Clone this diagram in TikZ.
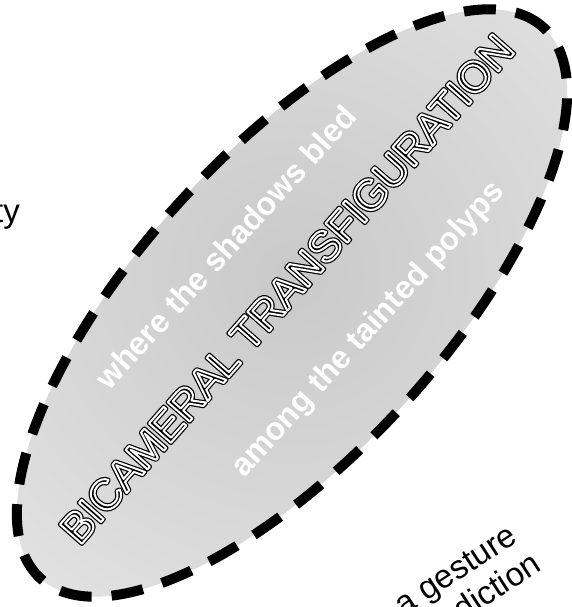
\documentclass[tikz,border=0pt]{standalone}
\usepackage{fontspec}
\setmainfont{Liberation Sans}
\usetikzlibrary{shapes.geometric}

% gray shade that runs out to the rim of the pod
\pgfdeclareradialshading{podshade}{\pgfpoint{0bp}{0bp}}{%
  color(0bp)=(black!21); color(25bp)=(black!14); color(50bp)=(black!6)}

% outlined letters: stroke only, round joins, width as given
\newcommand{\strokedtext}[2]{\special{pdf:literal direct 1 Tr 1 j #1 w}#2\special{pdf:literal direct 0 Tr}}

\tikzset{
  pod/.style = {ellipse, draw=black, line width=10pt, dash pattern=on 32pt off 20pt,
                shading=podshade, minimum width=746pt, minimum height=302pt, inner sep=0pt},
  bigtitle/.style = {inner sep=0pt, font=\fontsize{42.5}{48}\selectfont},
  whisper/.style = {inner sep=0pt, text=white, font=\fontsize{32}{36}\selectfont\bfseries},
  margin/.style = {inner sep=0pt, text=black, font=\fontsize{33}{38}\selectfont}
}

\begin{document}
\begin{tikzpicture}[x=1pt, y=-1pt]
  \useasboundingbox (0,0) rectangle (572,607);
  \clip (0,0) rectangle (572,607);

  \node (pod) [pod, rotate=47.6] at (292,303) {};

  \node (titleink) [bigtitle, rotate=48.6, text=black] at (287,289)
        {\strokedtext{4.4}{BICAMERAL TRANSFIGURATION}};
  \node (titlegap) [bigtitle, rotate=48.6, text=white] at (titleink)
        {\strokedtext{2.0}{BICAMERAL TRANSFIGURATION}};

  \node (shadows) [whisper, rotate=47.6] at (226,247) {where the shadows bled};
  \node (polyps) [whisper, rotate=47.6] at (369,330) {among the tainted polyps};

  \node (ty) [margin, anchor=base east] at (20,222) {ty};
  \node (gesture) [margin, anchor=base east, rotate=33] at (519,541) {a gesture};
  \node (diction) [margin, anchor=base east, rotate=33] at (543,569) {diction};
\end{tikzpicture}
\end{document}
